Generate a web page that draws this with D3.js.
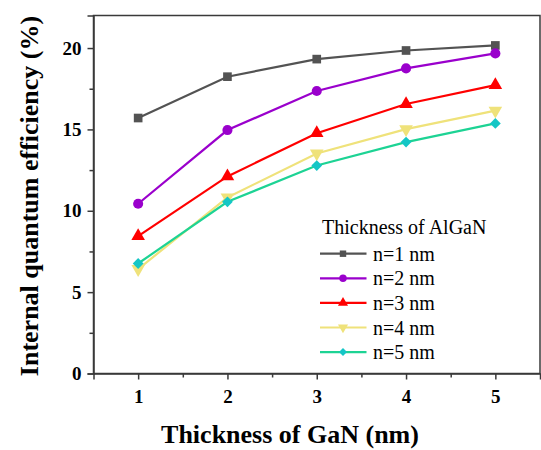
<!DOCTYPE html>
<html>
<head>
<meta charset="utf-8">
<script src="https://cdn.jsdelivr.net/npm/d3@7"></script>
<style>
  body { margin: 0; background: #fff; }
  svg text { font-family: "Liberation Serif", "Times New Roman", serif; }
</style>
</head>
<body>
<svg id="chart" width="541" height="450"></svg>
<script>
// data
const thickness = [1, 2, 3, 4, 5];
const n1 = [15.70, 18.24, 19.32, 19.85, 20.16];
const n2 = [10.43, 14.96, 17.36, 18.75, 19.67];
const n3 = [8.44, 12.11, 14.77, 16.56, 17.72];
const n4 = [6.42, 10.82, 13.52, 15.02, 16.15];
const n5 = [6.76, 10.55, 12.78, 14.22, 15.37];
const seriesNames = ["n=1 nm", "n=2 nm", "n=3 nm", "n=4 nm", "n=5 nm"];
const yTicks = [0, 5, 10, 15, 20];

const serif = "Liberation Serif, Times New Roman, serif";

// diamond = square turned by 45 degrees
const series = [
  { name: seriesNames[0], values: n1, line: "#535353", fill: "#535353", shape: d3.symbolSquare, size: 75, rot: 0 },
  { name: seriesNames[1], values: n2, line: "#9a00cc", fill: "#9a00cc", shape: d3.symbolCircle, size: 80, rot: 0 },
  { name: seriesNames[2], values: n3, line: "#ff0000", fill: "#ff0000", shape: d3.symbolTriangle, size: 80, rot: 0 },
  { name: seriesNames[3], values: n4, line: "#efe27a", fill: "#efe27a", shape: d3.symbolTriangle, size: 80, rot: 180 },
  { name: seriesNames[4], values: n5, line: "#1dd394", fill: "#14c6c6", shape: d3.symbolSquare, size: 58, rot: 45 }
];

const svg = d3.select("#chart");
const margin = { left: 93.5, top: 15.5, right: 540, bottom: 373.5 };

const x = d3.scaleLinear().domain([0.5, 5.5]).range([margin.left, margin.right]);
const y = d3.scaleLinear().domain([0, 22]).range([margin.bottom, margin.top]);

const axisColor = "#3a3a3a";

// frame
svg.append("rect")
  .attr("x", margin.left).attr("y", margin.top)
  .attr("width", margin.right - margin.left)
  .attr("height", margin.bottom - margin.top)
  .attr("fill", "none").attr("stroke", axisColor).attr("stroke-width", 1.5);

// x axis
svg.append("g").attr("transform", `translate(0,${margin.bottom})`)
  .call(d3.axisBottom(x).tickValues(thickness).tickSize(6).tickPadding(10).tickFormat(d3.format("d")));
svg.append("g").attr("transform", `translate(0,${margin.bottom})`)
  .call(d3.axisBottom(x).tickValues([1.5, 2.5, 3.5, 4.5]).tickSize(4).tickFormat(""))
  .call(g => g.select(".domain").remove());

// y axis
svg.append("g").attr("transform", `translate(${margin.left},0)`)
  .call(d3.axisLeft(y).tickValues(yTicks).tickSize(6).tickPadding(6));
svg.append("g").attr("transform", `translate(${margin.left},0)`)
  .call(d3.axisLeft(y).tickValues([2.5, 7.5, 12.5, 17.5]).tickSize(4).tickFormat(""))
  .call(g => g.select(".domain").remove());

svg.selectAll(".domain").attr("stroke", axisColor).attr("stroke-width", 1.5);
svg.selectAll(".tick line").attr("stroke", axisColor).attr("stroke-width", 1.5);
svg.selectAll(".tick text")
  .attr("font-family", serif)
  .attr("font-weight", "bold").attr("font-size", 19).attr("fill", "#000");

// axis titles
svg.append("text")
  .attr("x", 290).attr("y", 443)
  .attr("text-anchor", "middle")
  .attr("font-family", serif)
  .attr("font-weight", "bold").attr("font-size", 26)
  .text("Thickness of GaN (nm)");

svg.append("text")
  .attr("transform", "translate(38,196) rotate(-90)")
  .attr("text-anchor", "middle")
  .attr("font-family", serif)
  .attr("font-weight", "bold").attr("font-size", 26)
  .text("Internal quantum efficiency (%)");

// lines + markers
const line = d3.line().x((d, i) => x(thickness[i])).y(d => y(d));

series.forEach(s => {
  svg.append("path")
    .attr("d", line(s.values))
    .attr("fill", "none")
    .attr("stroke", s.line)
    .attr("stroke-width", 2.2);
});

series.forEach(s => {
  svg.append("g").selectAll("path")
    .data(s.values).enter()
    .append("path")
    .attr("d", d3.symbol().type(s.shape).size(s.size))
    .attr("transform", (d, i) => `translate(${x(thickness[i])},${y(d)}) rotate(${s.rot})`)
    .attr("fill", s.fill);
});

// legend
const legend = svg.append("g").attr("font-family", serif);
legend.append("text")
  .attr("x", 322).attr("y", 234)
  .attr("font-family", serif)
  .attr("font-size", 20)
  .text("Thickness of AlGaN");

series.forEach((s, i) => {
  const cy = 253.7 + i * 24.6;
  legend.append("line")
    .attr("x1", 320).attr("x2", 366.5)
    .attr("y1", cy).attr("y2", cy)
    .attr("stroke", s.line).attr("stroke-width", 2.2);
  legend.append("path")
    .attr("d", d3.symbol().type(s.shape).size(s.size * 0.55))
    .attr("transform", `translate(343,${cy}) rotate(${s.rot})`)
    .attr("fill", s.fill);
  legend.append("text")
    .attr("x", 373).attr("y", cy + 7)
    .attr("font-family", serif)
    .attr("font-size", 20)
    .text(s.name);
});
</script>
</body>
</html>
